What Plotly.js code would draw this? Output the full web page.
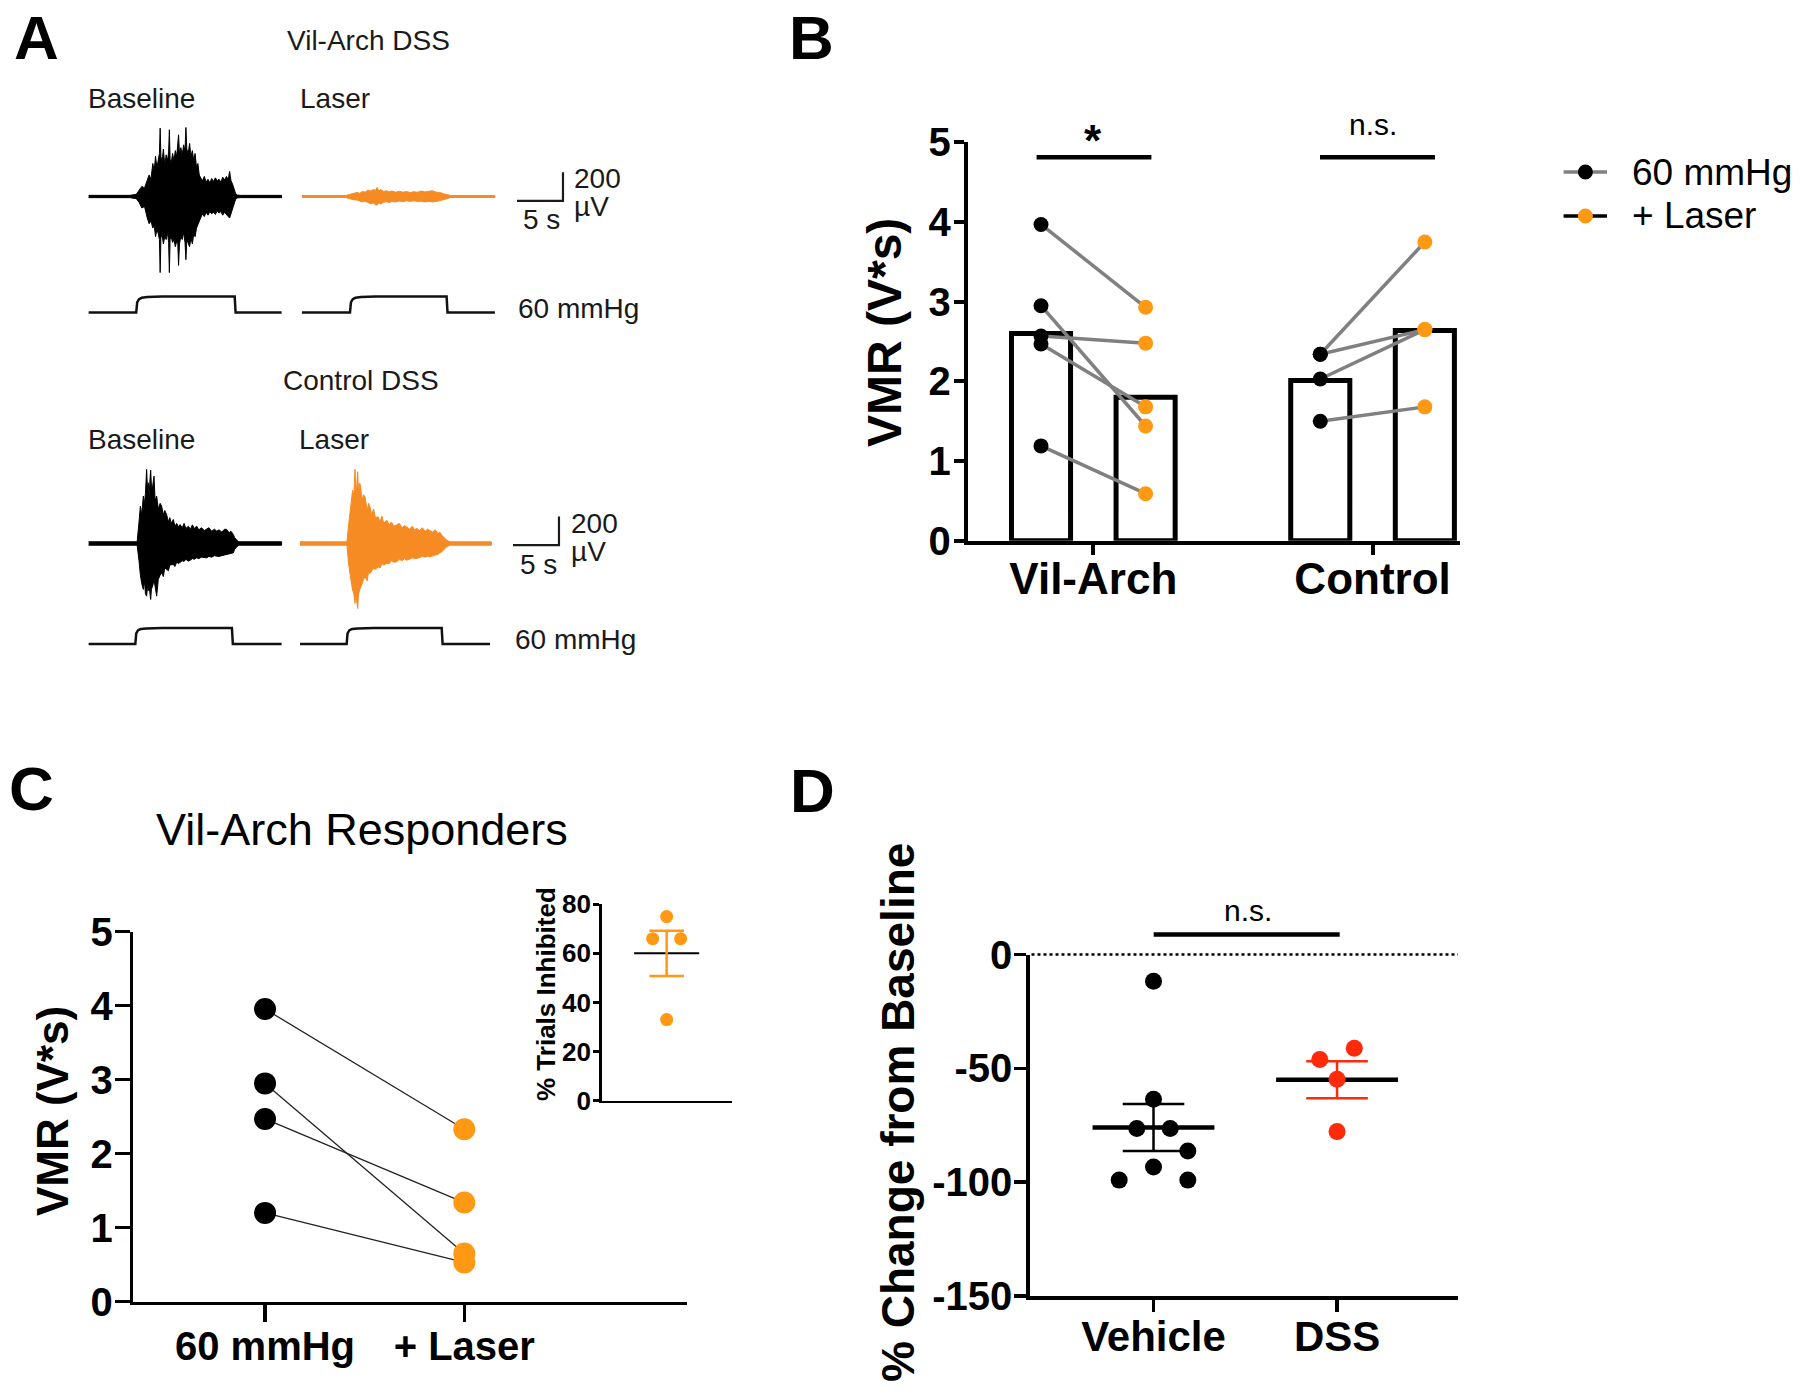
<!DOCTYPE html>
<html><head><meta charset="utf-8">
<script src="https://cdn.plot.ly/plotly-3.0.1.min.js"></script>
<style>html,body{margin:0;padding:0;background:#fff}</style>
</head><body>
<div id="chart" style="width:1800px;height:1395px"></div>
<script>
// ================= DATA =================
// Panel A : EMG envelopes as [time s, upper µV, lower µV] and balloon pressure (mmHg)
const vilBaseEnvelope = [
  [0,8,-8],[4.5,8,-8],[5.2,15,-15],[5.5,40,-40],[5.8,70,-80],[6.1,60,-70],[6.4,110,-150],[6.6,150,-190],[6.8,120,-170],
  [7.0,230,-220],[7.15,180,-200],[7.3,280,-280],[7.45,200,-230],[7.6,260,-260],[7.72,300,-300],[7.8,476,-530],[7.88,280,-290],
  [8.0,240,-260],[8.15,330,-330],[8.3,220,-280],[8.45,290,-300],[8.6,250,-250],[8.72,310,-320],[8.8,465,-530],[8.88,260,-300],
  [9.0,230,-280],[9.15,300,-320],[9.3,250,-300],[9.45,320,-350],[9.6,280,-310],[9.72,350,-330],[9.8,430,-480],[9.9,300,-330],
  [10.05,340,-280],[10.2,290,-300],[10.35,360,-250],[10.5,320,-320],[10.6,481,-440],[10.7,330,-300],[10.85,300,-330],
  [11.0,370,-350],[11.15,280,-290],[11.3,320,-330],[11.45,250,-260],[11.6,300,-280],[11.75,200,-220],[11.9,230,-200],
  [12.05,150,-170],[12.2,130,-150],[12.4,110,-120],[12.6,140,-140],[12.8,100,-110],[13.0,120,-130],[13.2,95,-105],
  [13.4,125,-120],[13.6,105,-110],[13.8,130,-125],[14.0,110,-100],[14.2,120,-115],[14.4,100,-105],[14.6,135,-130],
  [14.8,115,-110],[15.0,140,-125],[15.2,120,-140],[15.35,175,-150],[15.5,110,-120],[15.65,90,-90],[15.8,60,-60],
  [16.0,20,-20],[16.2,10,-10],[16.5,8,-8],[21,8,-8]
];
const vilLaserEnvelope = [
  [0,7,-7],[4.8,7,-7],[5.2,14,-12],[5.6,20,-22],[6.0,28,-25],[6.3,22,-30],[6.6,35,-38],[6.9,30,-33],[7.2,45,-42],
  [7.5,38,-50],[7.8,50,-45],[8.0,42,-58],[8.2,63,-60],[8.4,40,-45],[8.6,48,-52],[8.9,35,-40],[9.2,40,-36],[9.5,32,-42],
  [9.8,38,-35],[10.2,30,-38],[10.6,36,-32],[11.0,30,-36],[11.4,34,-30],[11.8,28,-34],[12.2,33,-30],[12.6,30,-35],
  [13.0,38,-33],[13.4,32,-38],[13.8,36,-34],[14.2,40,-38],[14.6,30,-32],[15.0,28,-30],[15.4,20,-22],[15.8,12,-12],
  [16.2,7,-7],[21,7,-7]
];
const ctlBaseEnvelope = [
  [0,12,-12],[5.3,12,-12],[5.5,150,-120],[5.65,260,-220],[5.8,200,-280],[5.97,330,-320],[6.1,280,-260],[6.2,350,-350],
  [6.33,516,-367],[6.42,380,-300],[6.5,423,-330],[6.6,330,-297],[6.7,450,-340],[6.77,511,-390],[6.85,400,-320],
  [6.95,380,-300],[7.05,430,-280],[7.13,469,-251],[7.25,300,-300],[7.42,330,-367],[7.6,240,-250],[7.8,280,-220],
  [7.96,260,-204],[8.15,200,-230],[8.3,230,-170],[8.5,202,-181],[8.7,150,-190],[8.85,180,-150],[9.0,140,-150],
  [9.23,167,-146],[9.4,120,-160],[9.6,140,-130],[9.8,115,-140],[9.96,132,-135],[10.2,110,-120],[10.4,140,-125],
  [10.6,105,-110],[10.86,120,-123],[11.1,100,-115],[11.3,130,-105],[11.5,105,-110],[11.77,121,-100],[12.0,95,-105],
  [12.3,110,-95],[12.6,90,-100],[12.86,98,-100],[13.1,110,-90],[13.4,85,-95],[13.7,100,-85],[13.95,86,-88],
  [14.2,95,-90],[14.5,80,-85],[14.8,100,-80],[15.03,98,-77],[15.3,75,-75],[15.5,85,-70],[15.75,63,-65],[15.9,40,-40],
  [16.04,28,-30],[16.3,12,-12],[21,12,-12]
];
const ctlLaserEnvelope = [
  [0,12,-12],[5.1,12,-12],[5.3,140,-150],[5.43,209,-209],[5.55,300,-260],[5.72,372,-325],[5.85,330,-350],[5.98,516,-418],
  [6.05,400,-360],[6.12,360,-380],[6.2,430,-400],[6.27,500,-453],[6.35,380,-360],[6.42,380,-340],[6.5,420,-320],
  [6.59,395,-302],[6.75,300,-280],[6.9,340,-250],[7.07,325,-232],[7.3,230,-260],[7.45,280,-200],[7.6,256,-209],
  [7.8,200,-190],[8.0,240,-175],[8.2,180,-180],[8.5,186,-163],[8.7,150,-170],[8.9,190,-140],[9.1,140,-150],
  [9.42,163,-139],[9.7,130,-140],[9.95,150,-120],[10.2,120,-130],[10.5,128,-128],[10.8,140,-110],[11.1,110,-120],
  [11.35,125,-105],[11.6,116,-116],[11.9,100,-110],[12.2,120,-100],[12.45,95,-105],[12.7,105,-105],[13.0,90,-100],
  [13.3,110,-90],[13.6,85,-95],[13.85,100,-88],[14.1,93,-93],[14.4,80,-85],[14.7,95,-80],[15.0,70,-75],[15.2,80,-65],
  [15.4,58,-58],[15.7,40,-40],[15.95,23,-23],[16.3,12,-12],[20.8,12,-12]
];

const vilBasePressT  = [0, 5.2, 5.3, 5.5, 5.8, 6.4, 8, 15.9, 16.0, 21];
const vilBasePressV  = [0, 0, 38, 50, 55, 58, 60, 60, 0, 0];
const vilLaserPressT = [0, 5.25, 5.35, 5.55, 5.85, 6.45, 8, 15.75, 15.85, 21];
const vilLaserPressV = [0, 0, 38, 50, 55, 58, 60, 60, 0, 0];
const ctlBasePressT  = [0, 5.1, 5.2, 5.4, 5.7, 6.3, 8, 15.6, 15.7, 21];
const ctlBasePressV  = [0, 0, 40, 52, 56, 58, 60, 60, 0, 0];
const ctlLaserPressT = [0, 5.07, 5.17, 5.37, 5.67, 6.27, 8, 15.4, 15.5, 20.65];
const ctlLaserPressV = [0, 0, 40, 52, 56, 58, 60, 60, 0, 0];

const scaleBarTime = 5;     // s
const scaleBarAmp  = 200;   // µV

// Panel B
const groupsB = ['Vil-Arch', 'Control'];
const conditionNames = ['60 mmHg', '+ Laser'];
const vilArchBaseline = [3.97, 2.95, 2.57, 2.47, 1.19];
const vilArchLaser    = [2.93, 1.44, 2.48, 1.68, 0.59];
const controlBaseline = [2.34, 2.34, 2.03, 1.50];
const controlLaser    = [3.75, 2.65, 2.65, 1.68];
const barBaseline = [2.60, 2.01];
const barLaser    = [1.80, 2.64];

// Panel C
const responderBaseline = [3.955, 2.95, 2.47, 1.20];
const responderLaser    = [2.33, 0.65, 1.34, 0.53];
const trialsInhibited = [75, 66, 66, 33];
const trialsMean = [60.0];
const trialsSEM  = [9.25];

// Panel D
const groupsD = ['Vehicle', 'DSS'];
const vehicleChange = [-11.7, -63.6, -76.4, -76.4, -86.3, -93.3, -99.1, -99.1];
const dssChange     = [-41.2, -46.1, -54.8, -77.8];
const meansD = [-76.0, -55.0];
const semD   = [10.3, 8.1];

// ================= LAYOUT HELPERS =================
const W = 1800, H = 1395;
const FONT = 'Liberation Sans, Arial, Helvetica, sans-serif';
const ORANGE = '#FF9812', TRACE_ORANGE = '#F68B24', RED = '#FF2A0A', GRAY = '#808080';
const px = x => x / W;
const py = y => 1 - y / H;
const xdom = (a, b) => [a / W, b / W];
const ydom = (top, bottom) => [1 - bottom / H, 1 - top / H];

// layout-only positions
const groupCentersB = [0.5, 3.17];
const barHalfSep = 0.5;
const jitterVehicle = [0, 0, -0.091, 0.091, 0.187, 0, -0.187, 0.187];
const jitterDSS = [0.094, -0.094, 0, 0];
const jitterInset = [0, -0.215, 0.215, 0];

const traces = [];

// ---------- Panel A ----------
function envelope(env, xa, ya, color) {
  const t = env.map(r => r[0]), up = env.map(r => r[1]), lo = env.map(r => r[2]);
  traces.push({
    type: 'scatter', mode: 'lines', xaxis: xa, yaxis: ya,
    x: t.concat(t.slice().reverse()),
    y: up.concat(lo.slice().reverse()),
    fill: 'toself', fillcolor: color,
    line: {color: color, width: 1}, hoverinfo: 'skip', showlegend: false
  });
}
function pressure(t, v, xa, ya) {
  traces.push({type: 'scatter', mode: 'lines', xaxis: xa, yaxis: ya, x: t, y: v,
    line: {color: '#111', width: 2.5}, hoverinfo: 'skip', showlegend: false});
}
function scaleBar(xa, ya, cornerT, cornerV) {
  traces.push({type: 'scatter', mode: 'lines', xaxis: xa, yaxis: ya,
    x: [cornerT - scaleBarTime, cornerT, cornerT],
    y: [cornerV, cornerV, cornerV + scaleBarAmp],
    line: {color: '#1a1a1a', width: 2.2}, hoverinfo: 'skip', showlegend: false, cliponaxis: false});
}
envelope(vilBaseEnvelope, 'x5', 'y5', '#000');
envelope(vilLaserEnvelope, 'x6', 'y5', TRACE_ORANGE);
envelope(ctlBaseEnvelope, 'x7', 'y7', '#000');
envelope(ctlLaserEnvelope, 'x8', 'y7', TRACE_ORANGE);
pressure(vilBasePressT, vilBasePressV, 'x5', 'y6');
pressure(vilLaserPressT, vilLaserPressV, 'x6', 'y6');
pressure(ctlBasePressT, ctlBasePressV, 'x7', 'y8');
pressure(ctlLaserPressT, ctlLaserPressV, 'x8', 'y8');
scaleBar('x6', 'y5', 28.4, -31);
scaleBar('x8', 'y7', 28.15, -12);

// ---------- Panel B ----------
traces.push({type: 'bar', xaxis: 'x', yaxis: 'y', x: groupCentersB.map(c => c - barHalfSep), y: barBaseline,
  width: 0.565, marker: {color: '#fff', line: {color: '#000', width: 5}}, hoverinfo: 'skip', showlegend: false});
traces.push({type: 'bar', xaxis: 'x', yaxis: 'y', x: groupCentersB.map(c => c + barHalfSep), y: barLaser,
  width: 0.565, marker: {color: '#fff', line: {color: '#000', width: 5}}, hoverinfo: 'skip', showlegend: false});
function pairLines(base, laser, x0, x1, xa, ya, color, width) {
  const xs = [], ys = [];
  base.forEach((b, i) => { xs.push(x0, x1, null); ys.push(b, laser[i], null); });
  traces.push({type: 'scatter', mode: 'lines', xaxis: xa, yaxis: ya, x: xs, y: ys,
    line: {color: color, width: width}, hoverinfo: 'skip', showlegend: false, cliponaxis: false});
}
pairLines(vilArchBaseline, vilArchLaser, groupCentersB[0] - barHalfSep, groupCentersB[0] + barHalfSep, 'x', 'y', GRAY, 3.5);
pairLines(controlBaseline, controlLaser, groupCentersB[1] - barHalfSep, groupCentersB[1] + barHalfSep, 'x', 'y', GRAY, 3.5);
function dots(xs, ys, xa, ya, color, size) {
  traces.push({type: 'scatter', mode: 'markers', xaxis: xa, yaxis: ya, x: xs, y: ys,
    marker: {color: color, size: size, line: {width: 0}}, hoverinfo: 'skip', showlegend: false, cliponaxis: false});
}
dots(vilArchBaseline.map(() => groupCentersB[0] - barHalfSep), vilArchBaseline, 'x', 'y', '#000', 15);
dots(controlBaseline.map(() => groupCentersB[1] - barHalfSep), controlBaseline, 'x', 'y', '#000', 15);
dots(vilArchLaser.map(() => groupCentersB[0] + barHalfSep), vilArchLaser, 'x', 'y', ORANGE, 15);
dots(controlLaser.map(() => groupCentersB[1] + barHalfSep), controlLaser, 'x', 'y', ORANGE, 15);

// ---------- Panel C ----------
pairLines(responderBaseline, responderLaser, 0, 1, 'x2', 'y2', '#222', 1.3);
dots(responderBaseline.map(() => 0), responderBaseline, 'x2', 'y2', '#000', 22);
dots(responderLaser.map(() => 1), responderLaser, 'x2', 'y2', ORANGE, 22);
// inset
traces.push({type: 'scatter', mode: 'lines', xaxis: 'x3', yaxis: 'y3', x: [-0.5, 0.5], y: [trialsMean[0], trialsMean[0]],
  line: {color: '#000', width: 2}, hoverinfo: 'skip', showlegend: false});
traces.push({type: 'scatter', mode: 'markers', xaxis: 'x3', yaxis: 'y3', x: [0], y: trialsMean,
  marker: {size: 1, opacity: 0}, error_y: {type: 'data', array: trialsSEM, color: ORANGE, thickness: 2.5, width: 17.3},
  hoverinfo: 'skip', showlegend: false});
dots(jitterInset, trialsInhibited, 'x3', 'y3', ORANGE, 13);

// ---------- Panel D ----------
traces.push({type: 'scatter', mode: 'lines', xaxis: 'x4', yaxis: 'y4',
  x: [-0.332, 0.332, null, 1 - 0.332, 1 + 0.332], y: [meansD[0], meansD[0], null, meansD[1], meansD[1]],
  line: {color: '#000', width: 4.5}, hoverinfo: 'skip', showlegend: false});
traces.push({type: 'scatter', mode: 'markers', xaxis: 'x4', yaxis: 'y4', x: [0], y: [meansD[0]],
  marker: {size: 1, opacity: 0}, error_y: {type: 'data', array: [semD[0]], color: '#000', thickness: 2.5, width: 30.8},
  hoverinfo: 'skip', showlegend: false});
traces.push({type: 'scatter', mode: 'markers', xaxis: 'x4', yaxis: 'y4', x: [1], y: [meansD[1]],
  marker: {size: 1, opacity: 0}, error_y: {type: 'data', array: [semD[1]], color: RED, thickness: 2.5, width: 30.8},
  hoverinfo: 'skip', showlegend: false});
dots(jitterVehicle, vehicleChange, 'x4', 'y4', '#000', 17);
dots(jitterDSS.map(j => 1 + j), dssChange, 'x4', 'y4', RED, 17);

// ================= AXES =================
const axisBase = {showgrid: false, zeroline: false, showline: true, linecolor: '#000', ticks: 'outside',
  tickcolor: '#000', fixedrange: true, color: '#000'};
const hidden = {visible: false, fixedrange: true, showgrid: false, zeroline: false};
const bold = (s) => ({family: FONT, size: s, color: '#000', weight: 700});

const layout = {
  width: W, height: H, margin: {l: 0, r: 0, t: 0, b: 0},
  paper_bgcolor: '#fff', plot_bgcolor: 'rgba(0,0,0,0)',
  font: {family: FONT, color: '#000'}, barmode: 'overlay', showlegend: false,
  // Panel B
  xaxis: Object.assign({}, axisBase, {domain: xdom(967.8, 1460), range: [-0.70, 4.006], anchor: 'y',
    linewidth: 4, tickwidth: 4, ticklen: 10, tickvals: groupCentersB, ticktext: groupsB, tickfont: bold(44),
    ticklabelstandoff: -14}),
  yaxis: Object.assign({}, axisBase, {domain: ydom(142.4, 540.7), range: [0, 5], anchor: 'x',
    linewidth: 4, tickwidth: 4, ticklen: 10, tickvals: [0, 1, 2, 3, 4, 5], tickfont: bold(40),
    ticklabelstandoff: -5}),
  // Panel C main
  xaxis2: Object.assign({}, axisBase, {domain: xdom(133.3, 686.5), range: [-0.661, 2.115], anchor: 'y2',
    linewidth: 3.5, tickwidth: 3.5, ticklen: 17, tickvals: [0, 1], ticktext: conditionNames, tickfont: bold(40),
    ticklabelstandoff: -10}),
  yaxis2: Object.assign({}, axisBase, {domain: ydom(931.7, 1301.7), range: [0, 5], anchor: 'x2',
    linewidth: 3.5, tickwidth: 3.5, ticklen: 15, tickvals: [0, 1, 2, 3, 4, 5], tickfont: bold(40),
    ticklabelstandoff: -6}),
  // Panel C inset
  xaxis3: Object.assign({}, axisBase, {domain: xdom(601.6, 731.7), range: [-1, 1], anchor: 'y3',
    linewidth: 2.5, ticks: '', showticklabels: false}),
  yaxis3: Object.assign({}, axisBase, {domain: ydom(904.3, 1100.5), range: [0, 80], anchor: 'x3',
    linewidth: 2.5, tickwidth: 2.5, ticklen: 6, tickvals: [0, 20, 40, 60, 80], tickfont: bold(26),
    ticklabelstandoff: -3}),
  // Panel D
  xaxis4: Object.assign({}, axisBase, {domain: xdom(1029.8, 1458), range: [-0.674, 1.659], anchor: 'y4',
    linewidth: 3.5, tickwidth: 3.5, ticklen: 12, tickvals: [0, 1], ticktext: groupsD, tickfont: bold(42),
    ticklabelstandoff: -11}),
  yaxis4: Object.assign({}, axisBase, {domain: ydom(954.5, 1296), range: [-150, 0], anchor: 'x4',
    linewidth: 3.5, tickwidth: 3.5, ticklen: 12, tickvals: [0, -50, -100, -150], ticktext: ['0', '-50', '-100', '-150'], tickfont: bold(40),
    ticklabelstandoff: -6}),
  // Panel A hidden axes (9.2 px per s, 0.1435 px per µV, 0.2667 px per mmHg)
  xaxis5: Object.assign({}, hidden, {domain: xdom(88.4, 88.4 + 22 * 9.2), range: [0, 22], anchor: 'y5'}),
  xaxis6: Object.assign({}, hidden, {domain: xdom(301.7, 301.7 + 30 * 9.2), range: [0, 30], anchor: 'y5'}),
  xaxis7: Object.assign({}, hidden, {domain: xdom(88.4, 88.4 + 22 * 9.2), range: [0, 22], anchor: 'y7'}),
  xaxis8: Object.assign({}, hidden, {domain: xdom(300, 300 + 30 * 9.2), range: [0, 30], anchor: 'y7'}),
  yaxis5: Object.assign({}, hidden, {domain: ydom(196.5 - 80.36, 196.5 + 80.36), range: [-560, 560], anchor: 'x5'}),
  yaxis6: Object.assign({}, hidden, {domain: ydom(312.5 - 80 * 0.2667, 312.5 + 20 * 0.2667), range: [-20, 80], anchor: 'x5'}),
  yaxis7: Object.assign({}, hidden, {domain: ydom(543.5 - 80.36, 543.5 + 80.36), range: [-560, 560], anchor: 'x7'}),
  yaxis8: Object.assign({}, hidden, {domain: ydom(644 - 80 * 0.2667, 644 + 20 * 0.2667), range: [-20, 80], anchor: 'x7'}),
  annotations: [],
  shapes: []
};

function txt(text, x, y, size, opts) {
  layout.annotations.push(Object.assign({text: text, xref: 'paper', yref: 'paper', x: px(x), y: py(y),
    xanchor: 'center', yanchor: 'middle', showarrow: false,
    font: {family: FONT, size: size, color: '#000'}}, opts || {}));
}
const regA = {font: {family: FONT, size: 28, color: '#1a1a1a'}};
// Panel letters
txt('A', 36, 37, 62, {font: bold(62)});
txt('B', 811, 37, 62, {font: bold(62)});
txt('C', 31, 788, 62, {font: bold(62)});
txt('D', 812, 790, 62, {font: bold(62)});
// Panel A labels
txt('Vil-Arch DSS', 368.5, 40, 28, regA);
txt('Baseline', 141, 98, 28, regA);
txt('Laser', 334.6, 98, 28, regA);
txt('200', 597.5, 179, 28, regA);
txt('µV', 591, 206, 28, regA);
txt('5 s', 541, 220, 28, regA);
txt('60 mmHg', 578, 308, 28, regA);
txt('Control DSS', 360.5, 380, 28, regA);
txt('Baseline', 141, 440, 28, regA);
txt('Laser', 334, 440, 28, regA);
txt('200', 594, 524, 28, regA);
txt('µV', 588, 551, 28, regA);
txt('5 s', 538.5, 565, 28, regA);
txt('60 mmHg', 575.8, 639.5, 28, regA);
// Panel B
txt('VMR (V*s)', 884, 333, 48, {font: bold(48), textangle: -90});
txt('*', 1093, 140, 44, {font: bold(44)});
txt('n.s.', 1373, 124, 30);
txt('60 mmHg', 1630, 172, 37, {xanchor: 'left'});
txt('+ Laser', 1630, 216, 37, {xanchor: 'left'});
layout.shapes.push(
  {type: 'line', xref: 'paper', yref: 'paper', x0: px(1036.6), x1: px(1151.4), y0: py(157.3), y1: py(157.3), line: {color: '#000', width: 4.5}},
  {type: 'line', xref: 'paper', yref: 'paper', x0: px(1320), x1: px(1435), y0: py(157.3), y1: py(157.3), line: {color: '#000', width: 4.5}},
  {type: 'line', xref: 'paper', yref: 'paper', x0: px(1563.6), x1: px(1607), y0: py(172), y1: py(172), line: {color: GRAY, width: 3.5}},
  {type: 'circle', xref: 'paper', yref: 'paper', x0: px(1577.9), x1: px(1592.9), y0: py(179.5), y1: py(164.5), fillcolor: '#000', line: {width: 0}},
  {type: 'line', xref: 'paper', yref: 'paper', x0: px(1563.6), x1: px(1607), y0: py(216), y1: py(216), line: {color: '#000', width: 3.5}},
  {type: 'circle', xref: 'paper', yref: 'paper', x0: px(1577.9), x1: px(1592.9), y0: py(223.5), y1: py(208.5), fillcolor: ORANGE, line: {width: 0}}
);
// Panel C
txt('Vil-Arch Responders', 362, 829, 45);
txt('VMR (V*s)', 52, 1111, 44, {font: bold(44), textangle: -90});
txt('% Trials Inhibited', 546, 994, 26, {font: bold(26), textangle: -90});
// Panel D
txt('% Change from Baseline', 898, 1113, 46, {font: bold(46), textangle: -90});
txt('n.s.', 1248, 910, 30);
layout.shapes.push(
  {type: 'line', xref: 'paper', yref: 'paper', x0: px(1153.7), x1: px(1339.7), y0: py(934.5), y1: py(934.5), line: {color: '#000', width: 4.5}},
  {type: 'line', xref: 'paper', yref: 'paper', x0: px(1031.5), x1: px(1458), y0: py(954.5), y1: py(954.5), line: {color: '#000', width: 2.5, dash: 'dot'}}
);

Plotly.newPlot('chart', traces, layout, {staticPlot: true, displayModeBar: false});
</script>
</body></html>
